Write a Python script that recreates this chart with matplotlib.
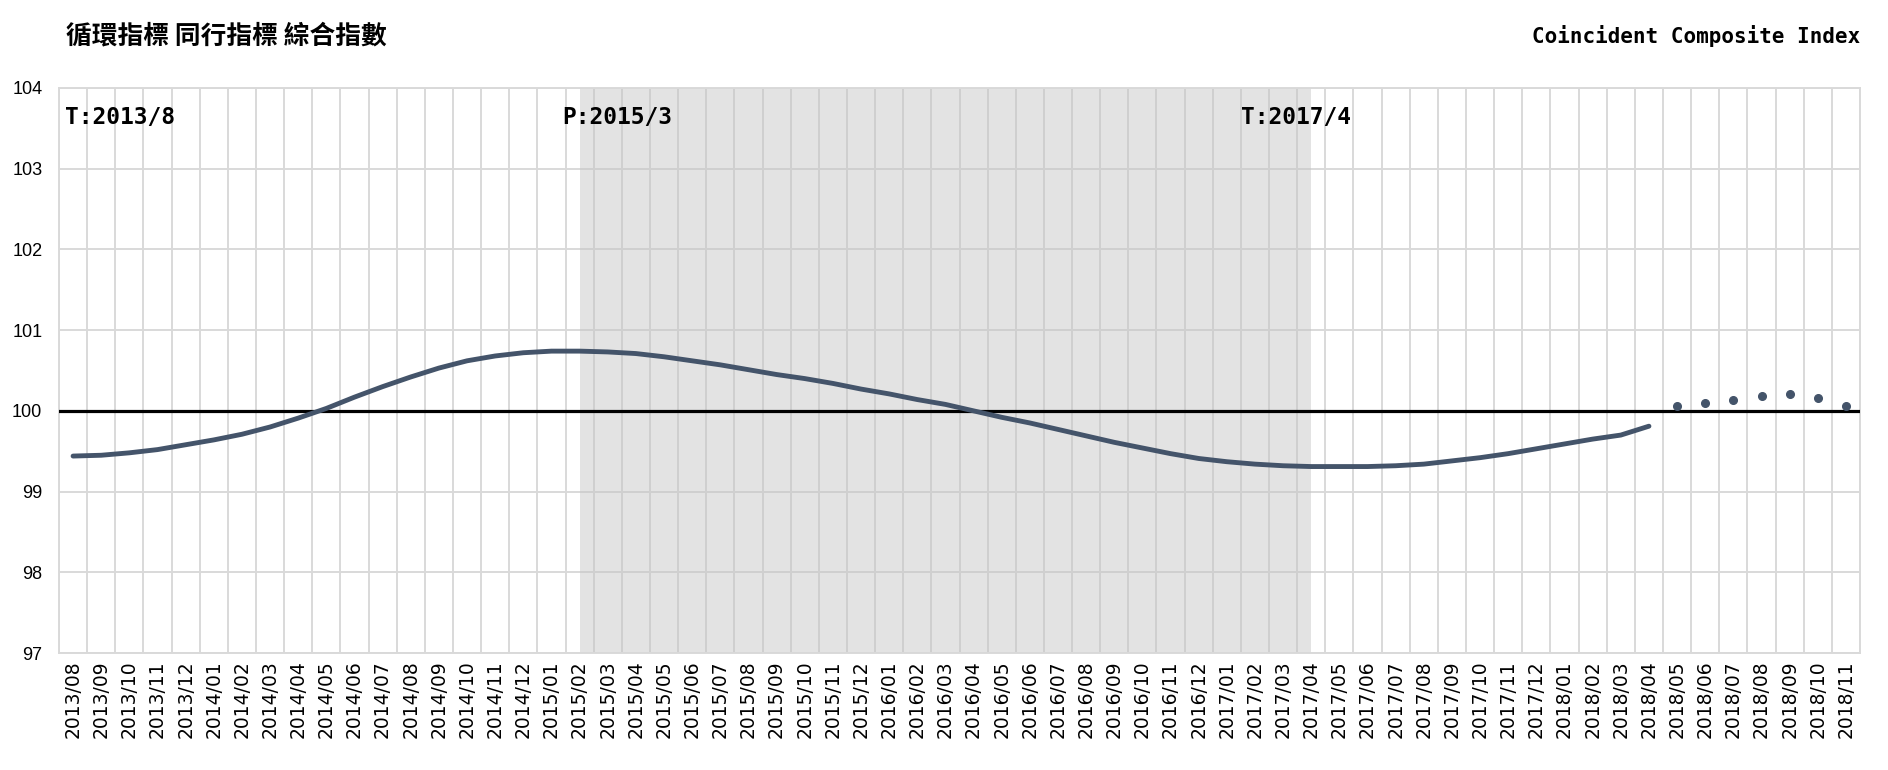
import numpy as np
import pandas as pd
import matplotlib
matplotlib.use("Agg")
import matplotlib.pyplot as plt

# 月份（2013/08 - 2018/11）
months = [p.strftime("%Y/%m") for p in pd.period_range("2013-08", "2018-11", freq="M")]

# 同行指標 綜合指數（實績）2013/08 - 2018/04
actual = [
    99.44, 99.45, 99.48, 99.52, 99.58, 99.64, 99.71, 99.80, 99.91, 100.03,
    100.17, 100.30, 100.42, 100.53, 100.62, 100.68, 100.72, 100.74, 100.74, 100.73,
    100.71, 100.67, 100.62, 100.57, 100.51, 100.45, 100.40, 100.34, 100.27, 100.21,
    100.14, 100.08, 100.00, 99.92, 99.85, 99.77, 99.69, 99.61, 99.54, 99.47,
    99.41, 99.37, 99.34, 99.32, 99.31, 99.31, 99.31, 99.32, 99.34, 99.38,
    99.42, 99.47, 99.53, 99.59, 99.65, 99.70, 99.81,
]
# 預測值 2018/05 - 2018/11
forecast = [100.06, 100.10, 100.14, 100.19, 100.21, 100.16, 100.06]

# 景氣轉折點
turning_labels = ["T:2013/8", "P:2015/3", "T:2017/4"]
turning_text_x = [-0.3, 17.4, 41.5]
shade_start, shade_end = "2015/02", "2017/04"

y_ticks = [97, 98, 99, 100, 101, 102, 103, 104]

line_color = "#44546a"
grid_color = "#d9d9d9"

fig = plt.figure(figsize=(18.88, 7.70), dpi=100)
ax = fig.add_axes([59 / 1888, 1 - 653 / 770, 1801 / 1888, 565 / 770])

x = np.arange(len(months))
n_act = len(actual)

ax.set_axisbelow(True)
ax.set_xlim(-0.5, len(months) - 0.5)
ax.set_ylim(97, 104)

# grid: vertical lines between categories, horizontal at each integer
ax.set_xticks(x)
ax.set_xticks(np.arange(-0.5, len(months), 1.0), minor=True)
ax.set_yticks(y_ticks)
ax.grid(True, which="minor", axis="x", color=grid_color, lw=1.4)
ax.grid(True, which="major", axis="y", color=grid_color, lw=1.4)
ax.tick_params(axis="both", which="both", length=0)
for s in ax.spines.values():
    s.set_color(grid_color)
    s.set_linewidth(1.4)

# recession shading
ax.axvspan(months.index(shade_start), months.index(shade_end),
           color="#c3c3c3", alpha=0.45, lw=0, zorder=1)

ax.axhline(100, color="black", lw=2.3, zorder=3)

ax.plot(x[:n_act], actual, color=line_color, lw=3.5, zorder=4,
        solid_capstyle="round")
ax.plot(x[n_act:], forecast, "o", color=line_color, ms=5.5, zorder=4)

ax.set_xticklabels(months, rotation=90, fontsize=13.5, family="DejaVu Sans")
ax.set_yticklabels([str(v) for v in y_ticks], fontsize=13,
                   family=["Liberation Sans", "DejaVu Sans"])
ax.tick_params(axis="x", pad=5)
ax.tick_params(axis="y", pad=12)

for lbl, tx in zip(turning_labels, turning_text_x):
    ax.text(tx, 103.64, lbl, ha="left", va="center", fontsize=16.5,
            fontweight="bold", family="DejaVu Sans Mono", zorder=5)

fig.text(66 / 1888, 0.953, "循環指標 同行指標 綜合指數", ha="left", va="center",
         fontsize=18.5, fontweight="bold", family=["Noto Sans CJK TC", "DejaVu Sans"])
fig.text(1860 / 1888, 0.953, "Coincident Composite Index", ha="right", va="center",
         fontsize=15, fontweight="bold", family="DejaVu Sans Mono")

fig.savefig("out.png", dpi=100, facecolor="white")
